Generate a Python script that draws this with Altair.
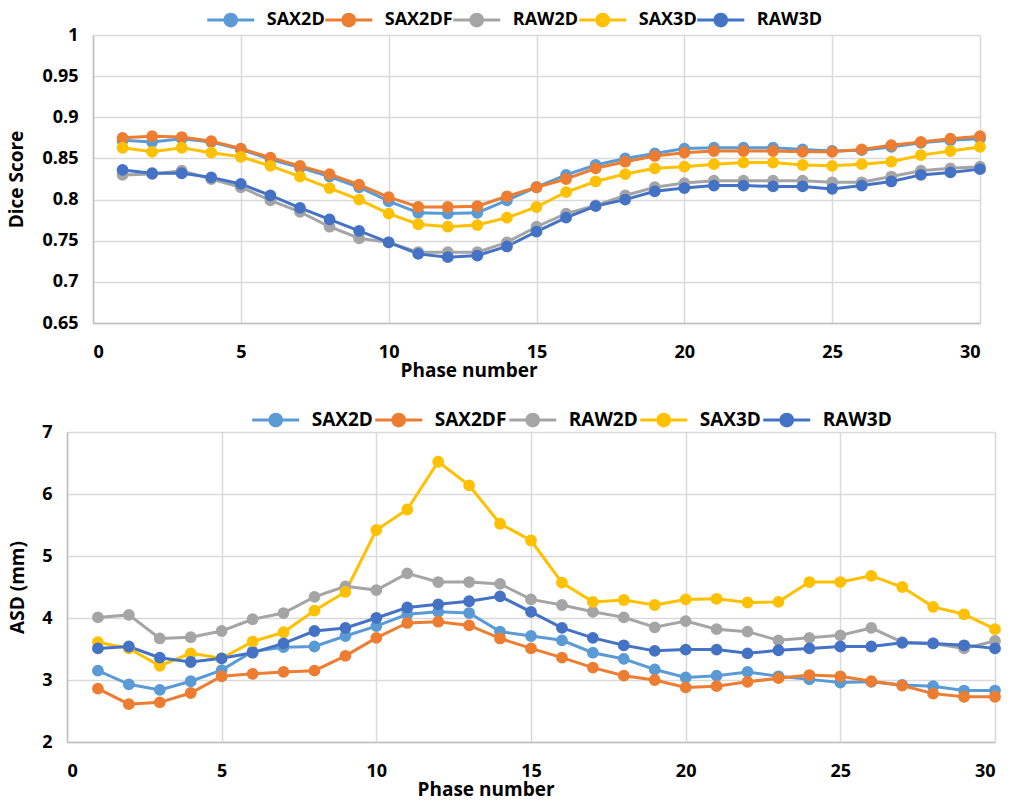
import altair as alt
import pandas as pd

phases = list(range(1, 31))
series = ["SAX2D", "SAX2DF", "RAW2D", "SAX3D", "RAW3D"]
colors = ["#5B9BD5", "#ED7D31", "#A5A5A5", "#FFC000", "#4472C4"]

dice_sax2d = [0.872, 0.870, 0.874, 0.870, 0.861, 0.849, 0.839, 0.828, 0.815, 0.798,
              0.784, 0.783, 0.784, 0.799, 0.815, 0.830, 0.842, 0.850, 0.856, 0.862,
              0.863, 0.863, 0.863, 0.861, 0.859, 0.860, 0.864, 0.869, 0.872, 0.874]
dice_sax2df = [0.875, 0.877, 0.876, 0.871, 0.862, 0.851, 0.841, 0.831, 0.818, 0.803,
               0.791, 0.791, 0.792, 0.804, 0.815, 0.825, 0.838, 0.846, 0.853, 0.857,
               0.859, 0.859, 0.859, 0.858, 0.858, 0.861, 0.866, 0.870, 0.874, 0.877]
dice_raw2d = [0.830, 0.831, 0.835, 0.825, 0.815, 0.799, 0.785, 0.767, 0.753, 0.748,
              0.736, 0.736, 0.736, 0.748, 0.767, 0.783, 0.793, 0.805, 0.815, 0.820,
              0.823, 0.823, 0.823, 0.823, 0.821, 0.821, 0.828, 0.835, 0.838, 0.840]
dice_sax3d = [0.863, 0.858, 0.863, 0.857, 0.852, 0.841, 0.828, 0.814, 0.800, 0.783,
              0.770, 0.767, 0.769, 0.778, 0.791, 0.809, 0.822, 0.831, 0.838, 0.840,
              0.843, 0.845, 0.845, 0.842, 0.841, 0.843, 0.846, 0.854, 0.859, 0.864]
dice_raw3d = [0.836, 0.832, 0.832, 0.827, 0.819, 0.805, 0.790, 0.776, 0.762, 0.748,
              0.734, 0.730, 0.732, 0.743, 0.761, 0.778, 0.792, 0.800, 0.810, 0.814,
              0.817, 0.817, 0.816, 0.816, 0.813, 0.817, 0.822, 0.830, 0.833, 0.837]

asd_sax2d = [3.15, 2.93, 2.84, 2.98, 3.16, 3.46, 3.53, 3.54, 3.71, 3.87,
             4.06, 4.10, 4.08, 3.78, 3.71, 3.64, 3.44, 3.34, 3.17, 3.04,
             3.07, 3.13, 3.06, 3.01, 2.96, 2.97, 2.92, 2.90, 2.83, 2.83]
asd_sax2df = [2.86, 2.61, 2.64, 2.79, 3.06, 3.10, 3.13, 3.15, 3.39, 3.68,
              3.92, 3.94, 3.88, 3.67, 3.51, 3.36, 3.20, 3.07, 3.00, 2.88,
              2.90, 2.97, 3.03, 3.08, 3.06, 2.98, 2.91, 2.78, 2.73, 2.73]
asd_raw2d = [4.01, 4.05, 3.67, 3.69, 3.79, 3.98, 4.08, 4.34, 4.51, 4.45,
             4.72, 4.58, 4.58, 4.55, 4.30, 4.21, 4.10, 4.01, 3.85, 3.95,
             3.82, 3.78, 3.64, 3.68, 3.72, 3.84, 3.61, 3.59, 3.51, 3.63]
asd_sax3d = [3.61, 3.51, 3.23, 3.43, 3.35, 3.62, 3.77, 4.12, 4.42, 5.42,
             5.75, 6.52, 6.14, 5.52, 5.25, 4.57, 4.26, 4.29, 4.21, 4.30,
             4.31, 4.25, 4.26, 4.58, 4.58, 4.68, 4.50, 4.18, 4.06, 3.82]
asd_raw3d = [3.51, 3.54, 3.36, 3.29, 3.35, 3.44, 3.59, 3.79, 3.84, 4.00,
             4.17, 4.22, 4.27, 4.35, 4.10, 3.84, 3.68, 3.56, 3.47, 3.49,
             3.49, 3.43, 3.48, 3.51, 3.54, 3.54, 3.60, 3.59, 3.56, 3.51]

x_ticks = [0, 5, 10, 15, 20, 25, 30]
dice_ticks = [0.65, 0.7, 0.75, 0.8, 0.85, 0.9, 0.95, 1.0]
asd_ticks = [2, 3, 4, 5, 6, 7]

dice = dict(zip(series, [dice_sax2d, dice_sax2df, dice_raw2d, dice_sax3d, dice_raw3d]))
asd = dict(zip(series, [asd_sax2d, asd_sax2df, asd_raw2d, asd_sax3d, asd_raw3d]))


def to_long(d):
    rows = []
    for s in series:
        for p, v in zip(phases, d[s]):
            rows.append({"Phase": p, "Series": s, "Value": v})
    return pd.DataFrame(rows)


FONT = "Open Sans"
LEG_PATH = "M-2,0L2,0M0.5,0A0.5,0.5,0,1,1,-0.5,0A0.5,0.5,0,1,1,0.5,0Z"


def panel(df, ydomain, yticks, ytitle, width, height, xrange, yoffset,
          ytitle_x, xtitle_x, leg_x, leg_y, leg_fs, title_fs, col_pad):
    cscale = alt.Scale(domain=series, range=colors)
    if xrange is not None:
        xscale = alt.Scale(domain=[0, 30], range=xrange, nice=False)
    else:
        xscale = alt.Scale(domain=[0, 30], nice=False)
    x = alt.X("Phase:Q", scale=xscale,
              axis=alt.Axis(values=x_ticks, title="Phase number",
                            titleX=xtitle_x, titleY=47, titleBaseline="middle",
                            titleAlign="center", titleFontSize=title_fs,
                            labelPadding=20, format="d"))
    y = alt.Y("Value:Q", scale=alt.Scale(domain=ydomain, nice=False, zero=False),
              axis=alt.Axis(values=yticks, title=ytitle, format="~g",
                            titleX=ytitle_x, titleY=height / 2, titleAngle=270,
                            titleBaseline="middle", titleAlign="center",
                            titleFontSize=title_fs, labelPadding=15,
                            offset=yoffset))
    leg = alt.Legend(title=None, orient="none", direction="horizontal",
                     legendX=leg_x, legendY=leg_y, symbolType=LEG_PATH,
                     symbolSize=552.25, symbolStrokeWidth=3, symbolOffset=10.25,
                     labelFontSize=leg_fs,
                     labelFont=FONT, labelFontWeight="bold", labelColor="#000000",
                     labelOffset=22.5, columnPadding=col_pad, padding=0)
    base = alt.Chart(df)
    lines = base.mark_line(strokeWidth=3).encode(
        x=x, y=y, color=alt.Color("Series:N", scale=cscale, legend=leg))
    pts = base.mark_point(filled=True, size=96, opacity=1, shape="circle").encode(
        x=x, y=y,
        color=alt.Color("Series:N", scale=cscale, legend=leg),
        stroke=alt.Stroke("Series:N", scale=cscale, legend=leg))
    return alt.layer(lines, pts).properties(
        width=width, height=height, view=alt.ViewBackground(stroke=None))


top = panel(to_long(dice), [0.65, 1.0], dice_ticks, "Dice Score", 913, 288,
            [26, 913], -26, -77, 401.5, 140, -28.75, 18, 19, -9)
bottom = panel(to_long(asd), [2, 7], asd_ticks, "ASD (mm)", 928, 310,
               None, 0, -50, 418.5, 185, -25.75, 19, 19, -4)

chart = alt.vconcat(top, bottom, spacing=109, bounds="flush").resolve_scale(
    color="independent", stroke="independent"
).resolve_legend(
    color="independent", stroke="independent"
).configure(
    padding={"left": 7, "top": 6, "right": 0, "bottom": 0}
).configure_axis(
    labelFont=FONT, labelFontSize=18, labelFontWeight="bold", labelColor="#000000",
    titleFont=FONT, titleFontWeight="bold", titleColor="#000000",
    grid=True, gridColor="#D9D9D9", gridWidth=1.5,
    domainColor="#BFBFBF", domainWidth=1.5, ticks=False, tickSize=0
)

chart.save("out.html", embed_options={"renderer": "svg", "actions": False})
